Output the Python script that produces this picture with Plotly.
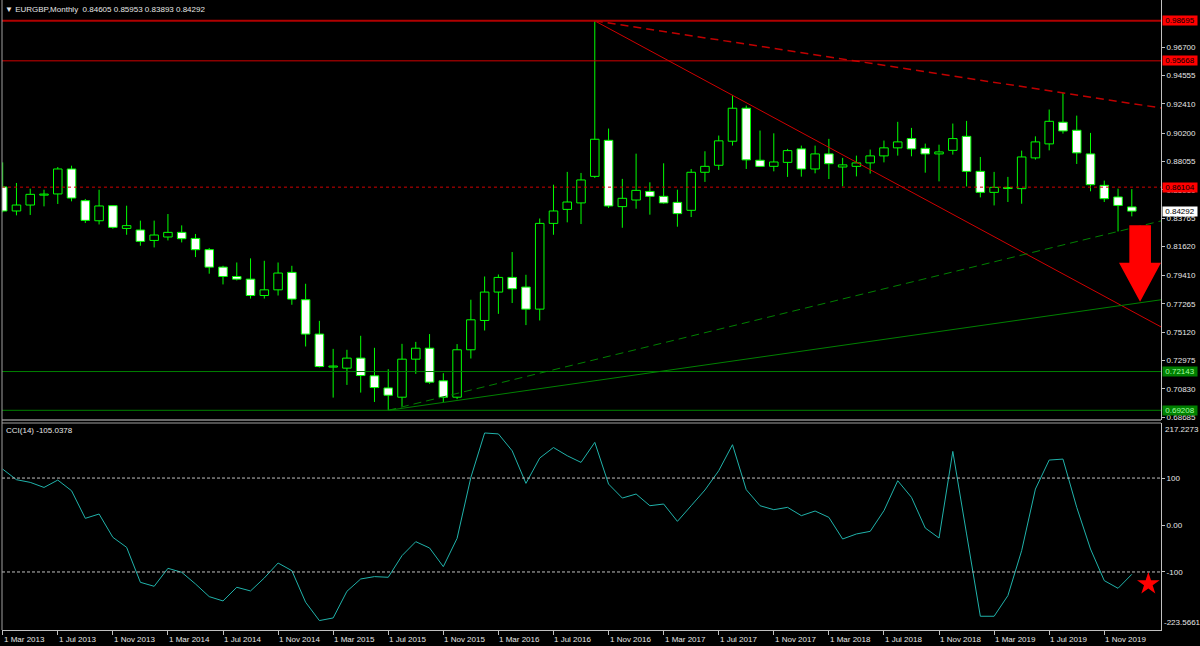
import plotly.graph_objects as go

# ---------------- data ----------------
tick_text = ["1 Mar 2013", "1 Jul 2013", "1 Nov 2013", "1 Mar 2014", "1 Jul 2014", "1 Nov 2014",
             "1 Mar 2015", "1 Jul 2015", "1 Nov 2015", "1 Mar 2016", "1 Jul 2016", "1 Nov 2016",
             "1 Mar 2017", "1 Jul 2017", "1 Nov 2017", "1 Mar 2018", "1 Jul 2018", "1 Nov 2018",
             "1 Mar 2019", "1 Jul 2019", "1 Nov 2019"]

# monthly bars Mar 2013 .. Jan 2020
open_ = [0.8612, 0.8430, 0.8475, 0.8550, 0.8559, 0.8748, 0.8508, 0.8356, 0.8470, 0.8298,
         0.8286, 0.8207, 0.8233, 0.8268, 0.8222, 0.8137, 0.8005, 0.7934, 0.7914, 0.7790,
         0.7833, 0.7965, 0.7758, 0.7498, 0.7248, 0.7240, 0.7316, 0.7182, 0.7090, 0.7020,
         0.7308, 0.7391, 0.7144, 0.7020, 0.7379, 0.7601, 0.7816, 0.7927, 0.7854, 0.7687,
         0.8336, 0.8442, 0.8491, 0.8692, 0.8965, 0.8463, 0.8513, 0.8578, 0.8541, 0.8495,
         0.8435, 0.8723, 0.8776, 0.8958, 0.9208, 0.8814, 0.8768, 0.8798, 0.8900, 0.8748,
         0.8862, 0.8763, 0.8768, 0.8794, 0.8847, 0.8908, 0.8978, 0.8904, 0.8862, 0.8889,
         0.8995, 0.8730, 0.8571, 0.8604, 0.8599, 0.8832, 0.8938, 0.9102, 0.9041, 0.8862,
         0.8624, 0.8536, 0.84605]
high = [0.8798, 0.8642, 0.8599, 0.8591, 0.8763, 0.8773, 0.8521, 0.8591, 0.8475, 0.8470,
        0.8357, 0.8357, 0.8407, 0.8321, 0.8256, 0.8150, 0.8015, 0.8040, 0.8071, 0.8053,
        0.8040, 0.8015, 0.7879, 0.7598, 0.7386, 0.7379, 0.7485, 0.7394, 0.7232, 0.7424,
        0.7439, 0.7498, 0.7202, 0.7422, 0.7758, 0.7934, 0.7949, 0.8119, 0.7947, 0.8373,
        0.8629, 0.8726, 0.8718, 0.98695, 0.9054, 0.8673, 0.8864, 0.8647, 0.8791, 0.8591,
        0.8748, 0.8882, 0.9001, 0.9306, 0.9228, 0.9039, 0.9018, 0.8900, 0.8925, 0.8925,
        0.8976, 0.8832, 0.8849, 0.8895, 0.8963, 0.9105, 0.9059, 0.8940, 0.8932, 0.9092,
        0.9112, 0.8839, 0.8726, 0.8688, 0.8887, 0.8995, 0.9198, 0.9324, 0.9152, 0.9021,
        0.8660, 0.8599, 0.85953]
low = [0.8420, 0.8397, 0.8400, 0.8465, 0.8483, 0.8503, 0.8339, 0.8328, 0.8296, 0.8250,
       0.8167, 0.8154, 0.8207, 0.8192, 0.8081, 0.7955, 0.7874, 0.7904, 0.7767, 0.7767,
       0.7790, 0.7720, 0.7404, 0.7245, 0.7017, 0.7113, 0.7055, 0.6984, 0.69208, 0.6949,
       0.7197, 0.7121, 0.6984, 0.7005, 0.7313, 0.7525, 0.7651, 0.7733, 0.7566, 0.7601,
       0.8250, 0.8344, 0.8331, 0.8680, 0.8453, 0.8303, 0.8447, 0.8402, 0.8485, 0.8311,
       0.8384, 0.8650, 0.8741, 0.8925, 0.8748, 0.8763, 0.8730, 0.8688, 0.8690, 0.8715,
       0.8672, 0.8616, 0.8692, 0.8713, 0.8798, 0.8849, 0.8844, 0.8720, 0.8654, 0.8857,
       0.8616, 0.8533, 0.8472, 0.8498, 0.8485, 0.8819, 0.8889, 0.9016, 0.8786, 0.8579,
       0.8498, 0.8275, 0.83893]
close = [0.8430, 0.8475, 0.8556, 0.8555, 0.8748, 0.8528, 0.8359, 0.8468, 0.8306, 0.8319,
         0.8200, 0.8248, 0.8268, 0.8220, 0.8137, 0.8005, 0.7934, 0.7914, 0.7790, 0.7833,
         0.7960, 0.7763, 0.7498, 0.7252, 0.7250, 0.7316, 0.7184, 0.7093, 0.7035, 0.7308,
         0.7391, 0.7134, 0.7020, 0.7379, 0.7606, 0.7816, 0.7927, 0.7841, 0.7687, 0.8336,
         0.8430, 0.8498, 0.8665, 0.8973, 0.8468, 0.8526, 0.8586, 0.8541, 0.8491, 0.8410,
         0.8723, 0.8768, 0.8961, 0.9208, 0.8817, 0.8768, 0.8801, 0.8887, 0.8748, 0.8862,
         0.8788, 0.8779, 0.8794, 0.8847, 0.8908, 0.8953, 0.8900, 0.8862, 0.8877, 0.8978,
         0.8730, 0.8571, 0.8609, 0.8600, 0.8839, 0.8953, 0.9109, 0.9036, 0.8870, 0.8629,
         0.8523, 0.8472, 0.84292]

cci = [119, 96.5, 90.8, 80, 95.7, 73, 14.2, 23.4, -26.2, -47.5,
       -122, -130.5, -92.2, -100.7, -125.5, -152.5, -161.7, -132.6, -140.4, -112.8,
       -80.9, -97.2, -164.5, -203.5, -197.9, -141.1, -114.9, -109.9, -111.3, -65.2,
       -35.5, -48.9, -88.7, -28.4, 101.4, 196, 194, 158, 88.7, 142.6,
       165, 147.5, 133.3, 176, 87.2, 57.4, 66, 41.1, 44.7, 7.8,
       41.1, 74.5, 115.6, 171, 75.2, 41.1, 32.6, 37.6, 19.9, 29.8,
       16.3, -29.8, -19.1, -13.5, 30.5, 94.3, 58.9, -6.4, -27.7, 156.7,
       -19, -194.3, -194.3, -150.4, -54.6, 76.6, 138.3, 140.4, 37.6, -51.1,
       -118.4, -134.8, -105.0378]

price_ticks = [0.96700, 0.94555, 0.92410, 0.90200, 0.88055, 0.85910, 0.83765, 0.81620,
               0.79410, 0.77265, 0.75120, 0.72975, 0.70830, 0.68685]
cci_ticks = [100, 0, -100]
cci_tick_text = ["100", "0.00", "-100"]
cci_max, cci_min = 217.2273, -223.5661

red_levels = [0.98695, 0.95668]
red_dash_level = 0.86104
green_levels = [0.72143, 0.69208]
last_price = 0.84292
green_trend_end = (82, 0.7726)
star_point = (83.2, -125.5)
# arrow outline (bar index, price)
arrow_x = [81.82, 83.39, 83.39, 84.12, 82.6, 81.07, 81.82]
arrow_y = [0.8321, 0.8321, 0.8038, 0.8038, 0.7742, 0.8038, 0.8038]

header = "EURGBP,Monthly\u00a0\u00a00.84605 0.85953 0.83893 0.84292"
cci_title = "CCI(14) -105.0378"

# ---------------- figure ----------------
FONT = "Tahoma, 'Liberation Sans', Arial, sans-serif"
TXT = "#e6e6e6"
GRID = "#c0c0c0"
LIME = "#00ff00"
X_MIN, X_MAX = -0.05, 84.12
Y_MIN, Y_MAX = 0.68474, 1.00274

n = len(open_)
idx = list(range(n))
fig = go.Figure()

# wicks (outside the body only)
wx, wy = [], []
for i in idx:
    top, bot = max(open_[i], close[i]), min(open_[i], close[i])
    wx += [i, i, None, i, i, None]
    wy += [top, high[i], None, low[i], bot, None]
fig.add_trace(go.Scatter(x=wx, y=wy, mode="lines", line=dict(color=LIME, width=1),
                         hoverinfo="skip", yaxis="y"))

min_h = 0.0008
for bull in (True, False):
    xs, hs, bs = [], [], []
    for i in idx:
        if (close[i] >= open_[i]) == bull:
            xs.append(i)
            hs.append(max(abs(close[i] - open_[i]), min_h))
            bs.append(min(open_[i], close[i]))
    fig.add_trace(go.Bar(x=xs, y=hs, base=bs, width=0.62, yaxis="y",
                         marker=dict(color="#000000" if bull else "#ffffff",
                                     line=dict(color=LIME, width=1)),
                         hoverinfo="skip"))


def ray(p0, p1, color, dash, width=1):
    (x0, y0), (x1, y1) = p0, p1
    slope = (y1 - y0) / (x1 - x0)
    fig.add_trace(go.Scatter(x=[x0, X_MAX], y=[y0, y0 + slope * (X_MAX - x0)], mode="lines",
                             line=dict(color=color, width=width, dash=dash), yaxis="y",
                             hoverinfo="skip"))


ray((43, high[43]), (53, high[53]), "#d00000", "solid")
ray((43, high[43]), (77, high[77]), "#c00000", "8px,5px", 1.5)
ray((28, low[28]), green_trend_end, "#008000", "solid")
ray((28, low[28]), (81, low[81]), "#008000", "8px,5px")

# CCI
fig.add_trace(go.Scatter(x=idx, y=cci, mode="lines", line=dict(color="#20B2AA", width=1),
                         yaxis="y2", hoverinfo="skip"))
fig.add_trace(go.Scatter(x=[star_point[0]], y=[star_point[1]], mode="markers", yaxis="y2",
                         marker=dict(symbol="star", size=17, color="#ff0000",
                                     line=dict(width=0)), hoverinfo="skip"))

shapes = []
for lv, w, c in zip(red_levels, [2, 1], ["#b00000", "#d00000"]):
    shapes.append(dict(type="line", xref="paper", x0=0, x1=1, yref="y", y0=lv, y1=lv,
                       line=dict(color=c, width=w)))
shapes.append(dict(type="line", xref="paper", x0=0, x1=1, yref="y", y0=red_dash_level,
                   y1=red_dash_level, line=dict(color="#d00000", width=1, dash="3px,3px")))
for lv in green_levels:
    shapes.append(dict(type="line", xref="paper", x0=0, x1=1, yref="y", y0=lv, y1=lv,
                       line=dict(color="#008000", width=1)))
for lv in cci_ticks:
    if lv != 0:
        shapes.append(dict(type="line", xref="paper", x0=0, x1=1, yref="y2", y0=lv, y1=lv,
                           line=dict(color="#c0c0c0", width=1, dash="3px,2px")))
path = "M " + " L ".join(f"{x},{y}" for x, y in zip(arrow_x, arrow_y)) + " Z"
shapes.append(dict(type="path", xref="x", yref="y", path=path, fillcolor="#ff0000",
                   line=dict(width=0)))
# panel borders
main_bottom = 210 / 630
cci_top = 207 / 630
shapes.append(dict(type="line", xref="paper", yref="paper", x0=0, x1=1, y0=main_bottom,
                   y1=main_bottom, line=dict(color="#d0d0d0", width=1)))
shapes.append(dict(type="line", xref="paper", yref="paper", x0=0, x1=1, y0=cci_top,
                   y1=cci_top, line=dict(color="#a0a0a0", width=1)))
shapes.append(dict(type="line", xref="paper", yref="paper", x0=0, x1=0, y0=0, y1=1,
                   line=dict(color="#a0a0a0", width=1)))

annotations = []


def price_box(val, bg, fg):
    annotations.append(dict(xref="paper", x=1, xanchor="left", xshift=1, yref="y", y=val,
                            yanchor="middle", text=f"{val:.5f}", showarrow=False,
                            bgcolor=bg, font=dict(family=FONT, size=8, color=fg),
                            width=34, height=9, borderpad=0, align="center"))


for lv in red_levels + [red_dash_level]:
    price_box(lv, "#ff0000", "#000000")
price_box(last_price, "#ffffff", "#000000")
for lv in green_levels:
    price_box(lv, "#008000", "#a0ffa0")

for pos, t in zip(range(0, 4 * len(tick_text), 4), tick_text):
    annotations.append(dict(xref="x", x=pos, xanchor="left", xshift=-1, yref="paper", y=0,
                            yanchor="top", yshift=-3, text=t, showarrow=False,
                            font=dict(family=FONT, size=8, color=TXT)))

annotations.append(dict(xref="paper", x=0, xanchor="left", xshift=1, yref="paper", y=1,
                        yanchor="top", yshift=-3, text="\u25bc " + header, showarrow=False,
                        font=dict(family=FONT, size=8, color=TXT)))
annotations.append(dict(xref="paper", x=0, xanchor="left", xshift=2, yref="paper", y=cci_top,
                        yanchor="top", yshift=-1, text=cci_title, showarrow=False,
                        font=dict(family=FONT, size=8, color=TXT)))
annotations.append(dict(xref="paper", x=1, xanchor="left", xshift=2, yref="paper", y=cci_top,
                        yanchor="top", yshift=0, text=f"{cci_max:.4f}", showarrow=False,
                        font=dict(family=FONT, size=8, color=TXT)))
annotations.append(dict(xref="paper", x=1, xanchor="left", xshift=1, yref="paper", y=0,
                        yanchor="bottom", yshift=1, text=f"{cci_min:.4f}", showarrow=False,
                        font=dict(family=FONT, size=8, color=TXT)))

fig.update_layout(
    width=1200, height=646,
    margin=dict(l=2, r=39, t=0, b=16),
    paper_bgcolor="#000000", plot_bgcolor="#000000",
    showlegend=False, barmode="overlay", bargap=0,
    font=dict(family=FONT, size=8, color=TXT),
    xaxis=dict(domain=[0, 1], range=[X_MIN, X_MAX], anchor="y2", showgrid=False,
               zeroline=False, tickvals=list(range(0, 4 * len(tick_text), 4)),
               showticklabels=False, ticks="outside", ticklen=4, tickcolor=GRID,
               showline=True, linecolor=GRID, linewidth=1),
    yaxis=dict(domain=[main_bottom, 1], range=[Y_MIN, Y_MAX], side="right", anchor="x",
               showgrid=False, zeroline=False, tickvals=price_ticks,
               ticktext=[f"{v:.5f}" for v in price_ticks], ticks="outside", ticklen=3,
               tickcolor=GRID, tickfont=dict(family=FONT, size=8, color=TXT),
               showline=True, linecolor=GRID, linewidth=1),
    yaxis2=dict(domain=[0, cci_top], range=[cci_min, cci_max], side="right", anchor="x",
                showgrid=False, zeroline=False, tickvals=cci_ticks, ticktext=cci_tick_text,
                ticks="outside", ticklen=3, tickcolor=GRID,
                tickfont=dict(family=FONT, size=8, color=TXT),
                showline=True, linecolor=GRID, linewidth=1),
    shapes=shapes, annotations=annotations,
)

fig.write_html(
    "out.html",
    config={"displayModeBar": False, "staticPlot": True},
    post_script="document.body.style.margin='0px';document.body.style.padding='0px';"
                "document.body.style.overflow='hidden';"
                "document.documentElement.style.background='#000';",
)
